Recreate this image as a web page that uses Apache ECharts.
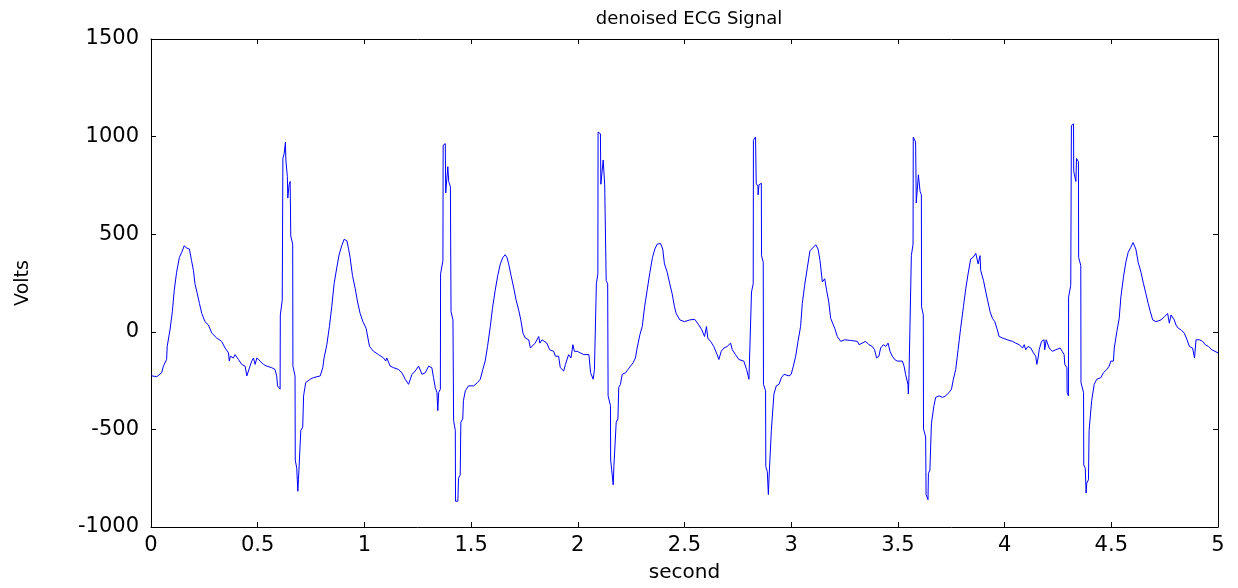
<!DOCTYPE html>
<html>
<head>
<meta charset="utf-8">
<script src="https://cdn.jsdelivr.net/npm/echarts@6/dist/echarts.min.js"></script>
<style>html,body{margin:0;padding:0;background:#fff;}#c{width:1238px;height:588px;}</style>
</head>
<body>
<div id="c"></div>
<script>
var chartTitle = 'denoised ECG Signal';
var xName = 'second';
var yName = 'Volts';
var xTicks = [0, 0.5, 1, 1.5, 2, 2.5, 3, 3.5, 4, 4.5, 5];
var yTicks = [-1000, -500, 0, 500, 1000, 1500];

var times = [
0,0.027,0.05,0.058,0.073,0.076,0.089,0.1,0.109,0.12,0.133,0.144,0.156,0.165,0.18,0.19,0.199,0.206,0.217,0.227,0.238,0.253,0.269,0.285,0.308,0.331,0.347,0.363,0.367,0.372,0.386,0.394,0.41,0.425,0.441,0.449,0.457,0.464,0.472,0.48,0.488,0.496,0.511,0.527,0.543,0.566,0.581,0.589,0.593,0.605,
0.606,0.615,0.618,0.624,0.63,0.632,0.639,0.641,0.647,0.652,0.655,0.664,0.665,0.675,0.676,0.683,0.688,0.691,0.699,0.702,0.711,0.715,0.724,0.725,0.746,0.761,0.793,0.805,0.811,0.824,0.836,0.847,0.858,0.871,0.882,0.894,0.905,0.918,0.926,0.933,0.944,0.957,0.968,0.98,0.993,1.008,1.024,1.043,1.066,1.09,1.1,1.105,1.121,1.137,1.16,1.176,1.191,1.207,1.223,1.238,1.254,1.27,1.285,1.301,1.316,1.324,1.332,1.34,1.344,1.348,1.356,
1.357,1.368,1.369,1.379,1.381,1.39,1.391,1.395,1.403,1.406,1.415,1.418,1.426,1.427,1.438,1.441,1.449,1.452,1.461,1.464,1.473,1.488,1.495,1.512,1.53,1.543,1.555,1.566,1.577,1.59,1.6,1.613,1.625,1.637,1.649,1.66,1.668,1.676,1.687,1.699,1.711,1.723,1.733,1.743,1.754,1.77,1.778,1.786,1.8,1.817,1.822,1.832,1.855,1.868,1.887,1.895,1.91,1.918,1.934,1.942,1.957,1.968,1.977,1.984,1.997,2.012,2.028,2.052,2.06,2.072,2.078,
2.087,2.094,2.095,2.106,2.108,2.117,2.119,2.126,2.133,2.14,2.142,2.153,2.154,2.161,2.166,2.169,2.177,2.18,2.188,2.192,2.2,2.208,2.224,2.235,2.247,2.259,2.27,2.278,2.291,2.302,2.313,2.325,2.338,2.35,2.361,2.372,2.388,2.398,2.406,2.419,2.431,2.442,2.453,2.461,2.478,2.5,2.525,2.548,2.567,2.581,2.594,2.603,2.609,2.622,2.637,2.653,2.661,2.672,2.685,2.7,2.716,2.724,2.739,2.755,2.778,2.791,2.802,2.81,
2.814,2.822,2.823,2.833,2.836,2.844,2.845,2.849,2.86,2.861,2.869,2.87,2.88,2.881,2.888,2.893,2.896,2.903,2.907,2.914,2.919,2.93,2.943,2.954,2.966,2.99,3.0,3.01,3.021,3.032,3.044,3.052,3.063,3.076,3.088,3.1,3.115,3.126,3.135,3.146,3.157,3.166,3.176,3.185,3.193,3.204,3.216,3.232,3.25,3.278,3.31,3.318,3.333,3.349,3.364,3.38,3.391,3.4,3.411,3.419,3.432,3.443,3.454,3.463,3.474,3.485,3.497,3.521,3.529,3.536,3.547,3.549,3.552,3.56,
3.563,3.571,3.572,3.583,3.586,3.594,3.596,3.604,3.61,3.611,3.619,3.62,3.63,3.632,3.641,3.643,3.65,3.657,3.666,3.669,3.677,3.693,3.709,3.724,3.74,3.751,3.76,3.771,3.782,3.794,3.807,3.818,3.829,3.841,3.852,3.865,3.876,3.885,3.888,3.901,3.912,3.922,3.932,3.943,3.954,3.966,3.974,3.99,4.013,4.037,4.052,4.068,4.084,4.092,4.099,4.11,4.123,4.135,4.146,4.151,4.157,4.162,4.173,4.185,4.188,4.195,4.209,4.224,4.24,4.26,4.27,4.279,4.282,4.292,4.293,4.299,
4.3,4.31,4.313,4.323,4.324,4.334,4.337,4.346,4.347,4.357,4.358,4.37,4.371,4.378,4.382,4.385,4.393,4.396,4.404,4.408,4.417,4.42,4.432,4.451,4.463,4.479,4.49,4.498,4.51,4.514,4.526,4.537,4.545,4.557,4.568,4.579,4.591,4.602,4.615,4.626,4.639,4.651,4.662,4.673,4.683,4.694,4.71,4.733,4.749,4.764,4.772,4.78,4.795,4.803,4.814,4.827,4.842,4.855,4.866,4.881,4.89,4.897,4.913,4.928,4.935,4.94,4.955,4.971,5.0
];

var volts = [
-225,-230,-210,-176,-142,-75,10,103,213,305,381,407,441,430,424,365,314,246,196,145,94,52,35,-7,-32,-49,-83,-108,-150,-125,-134,-117,-142,-167,-176,-226,-235,-176,-150,-134,-167,-134,-150,-167,-176,-184,-193,-226,-277,-294,
86,162,888,913,972,880,795,685,753,770,491,449,-176,-226,-657,-699,-817,-758,-758,-505,-488,-328,-319,-260,-243,-235,-226,-184,-134,-66,27,128,246,331,398,441,474,466,424,381,289,221,153,94,52,18,-75,-100,-117,-134,-150,-134,-176,-184,-193,-210,-243,-269,-218,-201,-176,-218,-210,-176,-184,-235,-285,-311,-404,-311,-294,
297,365,956,964,711,711,846,770,744,103,61,-454,-505,-868,-868,-750,-733,-463,-446,-353,-302,-277,-269,-277,-260,-243,-193,-150,-75,27,120,213,289,348,381,395,381,348,289,229,162,111,61,-7,-32,-41,-83,-75,-58,-24,-58,-41,-58,-92,-100,-125,-125,-184,-201,-167,-117,-134,-66,-100,-100,-108,-117,-117,-210,-243,-193,
246,297,1023,1015,756,756,880,753,263,246,-328,-378,-657,-665,-784,-691,-691,-463,-446,-285,-269,-218,-210,-193,-176,-159,-134,-83,-15,27,128,213,305,381,424,449,452,424,348,305,246,196,128,94,61,52,61,64,35,10,-24,27,-32,-49,-75,-117,-142,-100,-83,-75,-58,-92,-117,-142,-150,-193,-243,-243,
204,246,981,998,761,744,702,753,761,390,356,-269,-302,-691,-716,-834,-750,-750,-505,-497,-319,-277,-269,-235,-218,-226,-218,-176,-125,-49,27,145,238,331,415,429,446,424,365,255,272,213,153,69,61,18,-24,-49,-41,-44,-49,-66,-58,-49,-66,-75,-92,-134,-125,-83,-66,-75,-58,-100,-125,-142,-150,-150,-176,-218,-269,-319,-226,-226,
390,449,998,972,660,651,804,719,702,128,86,-497,-539,-834,-860,-725,-708,-471,-463,-378,-336,-328,-336,-328,-311,-294,-243,-193,-92,18,128,221,297,373,381,402,348,390,314,263,204,153,103,69,52,10,-24,-32,-41,-49,-58,-66,-83,-66,-92,-75,-83,-108,-125,-167,-134,-92,-49,-41,-92,-41,-83,-100,-92,-83,-100,-117,-167,-184,-311,-328,
179,238,1057,1065,821,770,888,871,381,339,-260,-311,-682,-699,-826,-775,-758,-505,-497,-353,-345,-269,-243,-235,-210,-193,-176,-150,-150,-83,1,69,179,280,356,407,432,457,424,356,305,246,196,145,103,61,52,61,77,94,44,86,61,35,18,10,-7,-41,-75,-83,-134,-41,-41,-49,-41,-66,-75,-92,-108
];

var data = times.map(function (t, i) { return [t, volts[i]]; });

var FONT = 'DejaVu Sans';
var chart = echarts.init(document.getElementById('c'), null, {renderer: 'canvas'});
var axisCommon = {
  type: 'value',
  splitLine: {show: false},
  axisLine: {show: true, onZero: false, lineStyle: {color: '#000', width: 1}},
  axisTick: {show: true, inside: true, length: 5, lineStyle: {color: '#000', width: 1}}
};
chart.setOption({
  animation: false,
  backgroundColor: '#fff',
  title: {
    text: chartTitle,
    left: 684, top: 5, textAlign: 'center',
    textStyle: {fontFamily: FONT, fontSize: 18, fontWeight: 'normal', color: '#000'}
  },
  grid: {left: 151, right: 20, top: 39, bottom: 55, containLabel: false},
  xAxis: [
    Object.assign({}, axisCommon, {
      position: 'bottom', min: xTicks[0], max: xTicks[xTicks.length - 1], interval: 0.5,
      name: xName, nameLocation: 'middle', nameGap: 36,
      nameTextStyle: {fontFamily: FONT, fontSize: 20, color: '#000'},
      axisLabel: {fontFamily: FONT, fontSize: 21, color: '#000', margin: 8,
        formatter: function (v) { return String(v); }}
    }),
    Object.assign({}, axisCommon, {
      position: 'top', min: xTicks[0], max: xTicks[xTicks.length - 1], interval: 0.5,
      axisLabel: {show: false}
    })
  ],
  yAxis: [
    Object.assign({}, axisCommon, {
      position: 'left', min: yTicks[0], max: yTicks[yTicks.length - 1], interval: 500,
      name: yName, nameLocation: 'middle', nameGap: 118, nameRotate: 90,
      nameTextStyle: {fontFamily: FONT, fontSize: 19, color: '#000'},
      axisLabel: {fontFamily: FONT, fontSize: 21, color: '#000', margin: 12,
        formatter: function (v) { return String(v); }}
    }),
    Object.assign({}, axisCommon, {
      position: 'right', min: yTicks[0], max: yTicks[yTicks.length - 1], interval: 500,
      axisLabel: {show: false}
    })
  ],
  series: [{
    type: 'line',
    data: data,
    xAxisIndex: 0, yAxisIndex: 0,
    showSymbol: false,
    symbol: 'none',
    lineStyle: {color: '#0000ff', width: 1},
    silent: true
  }]
});
</script>
</body>
</html>
